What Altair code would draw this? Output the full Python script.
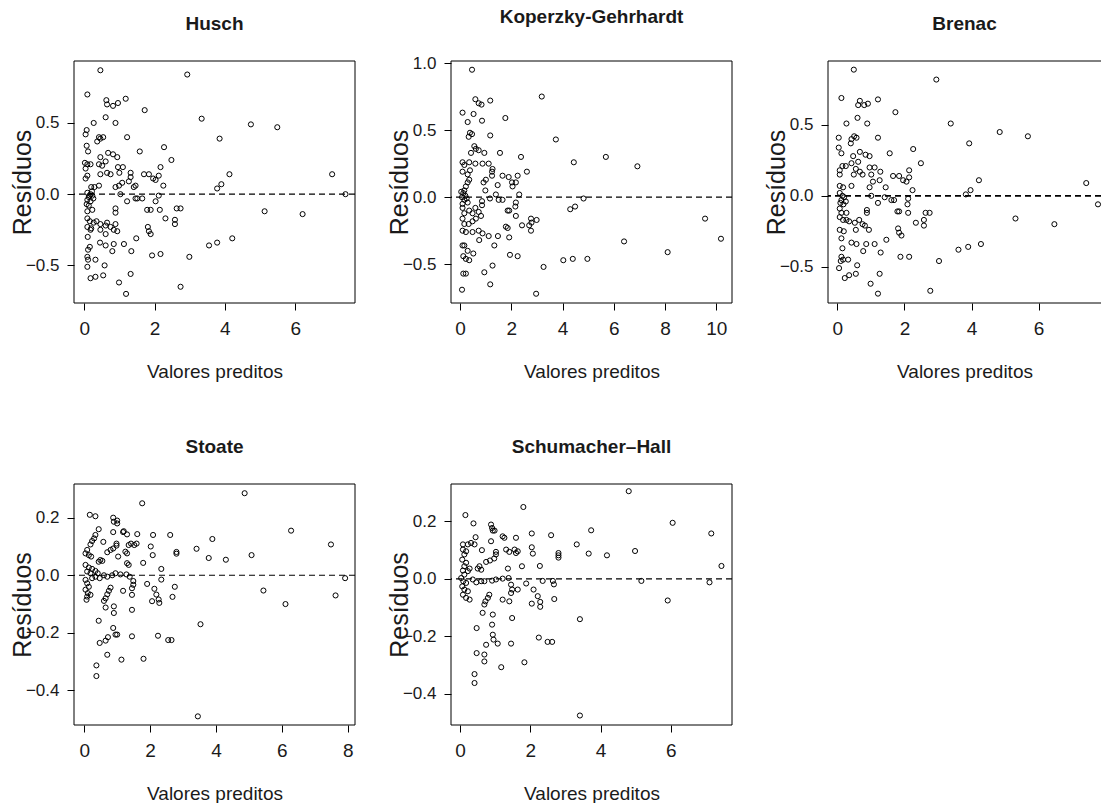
import altair as alt
import pandas as pd

FONT = "Liberation Sans, Arial, sans-serif"

husch = [
    (0.46, 0.87), (2.93, 0.84), (0.09, 0.70), (0.63, 0.66), (0.65, 0.63), (0.82, 0.62), (0.96, 0.64), (1.18, 0.67),
    (1.72, 0.59), (3.34, 0.53), (0.27, 0.50), (0.61, 0.54), (0.89, 0.50), (0.07, 0.45), (0.04, 0.42), (0.42, 0.40),
    (0.54, 0.40), (0.37, 0.37), (0.46, 0.39), (1.22, 0.40), (0.07, 0.34), (0.11, 0.30), (2.27, 0.33), (1.58, 0.30),
    (0.68, 0.29), (0.82, 0.28), (0.94, 0.26), (0.46, 0.26), (0.61, 0.23), (2.48, 0.24), (0.02, 0.22), (0.09, 0.21),
    (0.18, 0.21), (0.04, 0.18), (0.42, 0.21), (0.51, 0.20), (0.96, 0.19), (1.10, 0.19), (2.17, 0.19), (0.46, 0.14),
    (0.65, 0.15), (0.75, 0.14), (1.00, 0.15), (1.32, 0.15), (1.70, 0.14), (1.84, 0.14), (1.96, 0.11), (2.03, 0.10),
    (2.12, 0.13), (0.09, 0.13), (0.04, 0.11), (1.08, 0.08), (0.99, 0.06), (0.89, 0.05), (1.32, 0.12), (1.27, 0.09),
    (1.46, 0.06), (1.41, 0.05), (2.25, 0.06), (0.20, 0.05), (0.42, 0.06), (0.29, 0.05), (0.09, 0.01), (0.18, 0.00),
    (0.23, -0.01), (0.13, -0.02), (0.26, -0.03), (0.09, -0.04), (0.18, -0.05), (0.22, 0.02), (0.15, -0.01), (1.03, 0.00),
    (1.22, -0.05), (1.46, -0.03), (1.51, -0.03), (1.65, -0.03), (2.12, -0.01), (2.03, -0.05), (0.07, -0.07), (0.13, -0.08),
    (0.09, -0.12), (0.23, -0.11), (0.89, -0.10), (0.89, -0.13), (1.79, -0.11), (1.89, -0.11), (2.15, -0.11), (2.63, -0.10),
    (2.74, -0.10), (2.31, -0.17), (2.58, -0.18), (2.58, -0.21), (0.09, -0.17), (0.16, -0.19), (0.27, -0.20), (0.35, -0.19),
    (0.46, -0.21), (0.61, -0.22), (0.65, -0.20), (0.75, -0.23), (0.89, -0.21), (0.84, -0.25), (0.94, -0.26), (0.09, -0.23),
    (0.18, -0.25), (0.20, -0.24), (1.81, -0.23), (1.84, -0.26), (1.89, -0.28), (0.46, -0.25), (0.61, -0.28), (0.10, -0.30),
    (1.48, -0.31), (0.45, -0.34), (0.61, -0.36), (0.84, -0.35), (1.13, -0.35), (1.34, -0.40), (0.16, -0.37), (0.11, -0.39),
    (0.09, -0.44), (0.11, -0.46), (0.09, -0.51), (0.80, -0.40), (1.93, -0.43), (2.17, -0.42), (2.99, -0.44), (0.32, -0.46),
    (0.58, -0.50), (0.18, -0.59), (0.32, -0.58), (0.54, -0.57), (1.32, -0.56), (0.99, -0.62), (2.74, -0.65), (1.19, -0.70),
    (4.74, 0.49), (5.49, 0.47), (3.85, 0.39), (4.13, 0.14), (7.05, 0.14), (3.78, 0.04), (3.90, 0.07), (7.43, 0.00),
    (5.13, -0.12), (6.21, -0.14), (4.21, -0.31), (3.78, -0.34), (3.55, -0.36),
]

koperzky = [
    (0.47, 0.95), (3.19, 0.75), (3.74, 0.43), (5.69, 0.30), (4.44, 0.26), (6.92, 0.23), (2.61, 0.19), (2.38, 0.30),
    (4.82, -0.01), (4.49, -0.07), (4.30, -0.09), (9.56, -0.16), (10.18, -0.31), (6.40, -0.33), (8.10, -0.41), (4.97, -0.46),
    (4.40, -0.46), (4.03, -0.47), (3.26, -0.52), (2.97, -0.72), (2.77, -0.16), (2.79, -0.19), (2.77, -0.25), (2.99, -0.17),
    (2.42, -0.21), (2.31, 0.02), (0.60, 0.73), (0.73, 0.70), (0.84, 0.69), (1.18, 0.72), (0.10, 0.63), (0.53, 0.62),
    (0.86, 0.57), (0.30, 0.56), (1.77, 0.59), (0.39, 0.48), (0.47, 0.47), (0.34, 0.45), (1.18, 0.46), (0.56, 0.38),
    (0.62, 0.36), (0.73, 0.35), (0.43, 0.33), (0.95, 0.33), (1.56, 0.33), (0.10, 0.26), (0.17, 0.24), (0.36, 0.26),
    (0.60, 0.25), (0.88, 0.25), (1.12, 0.25), (0.10, 0.19), (0.30, 0.17), (0.39, 0.20), (1.25, 0.19), (1.25, 0.16),
    (1.27, 0.21), (1.66, 0.16), (1.90, 0.15), (2.25, 0.16), (0.30, 0.11), (0.36, 0.13), (0.92, 0.11), (1.01, 0.13),
    (1.47, 0.09), (2.03, 0.11), (2.18, 0.11), (0.23, 0.08), (0.17, 0.05), (0.99, 0.05), (2.05, 0.08), (0.05, 0.04),
    (0.13, 0.03), (0.21, 0.01), (0.08, 0.00), (0.26, -0.01), (0.17, -0.02), (0.10, -0.05), (0.30, -0.04), (1.17, -0.01),
    (1.40, 0.02), (1.51, -0.02), (1.66, -0.02), (0.86, -0.03), (0.86, -0.06), (2.18, -0.04), (2.16, -0.07), (0.10, -0.08),
    (0.17, -0.12), (0.36, -0.10), (0.49, -0.12), (0.60, -0.08), (0.73, -0.11), (0.82, -0.14), (0.62, -0.16), (1.86, -0.10),
    (1.92, -0.10), (2.18, -0.14), (0.10, -0.16), (0.17, -0.20), (0.34, -0.20), (0.49, -0.18), (2.70, -0.21), (1.79, -0.22),
    (1.86, -0.23), (1.92, -0.30), (0.10, -0.25), (0.23, -0.26), (0.49, -0.26), (0.73, -0.25), (0.88, -0.27), (0.75, -0.32),
    (1.12, -0.29), (1.48, -0.29), (1.34, -0.36), (0.10, -0.36), (0.17, -0.36), (0.30, -0.40), (0.13, -0.44), (0.23, -0.46),
    (0.36, -0.47), (0.52, -0.42), (1.95, -0.43), (2.25, -0.44), (0.13, -0.57), (0.23, -0.57), (0.95, -0.56), (1.27, -0.51),
    (1.18, -0.65), (0.08, -0.69),
]

brenac = [
    (0.49, 0.89), (2.95, 0.82), (0.12, 0.69), (0.67, 0.67), (0.62, 0.64), (0.80, 0.64), (0.91, 0.65), (1.21, 0.68),
    (1.73, 0.59), (3.38, 0.51), (0.27, 0.51), (0.60, 0.55), (0.89, 0.51), (0.04, 0.41), (0.04, 0.34), (0.12, 0.30),
    (0.42, 0.40), (0.50, 0.42), (0.57, 0.41), (0.40, 0.37), (1.21, 0.41), (2.26, 0.33), (1.56, 0.30), (0.67, 0.31),
    (0.84, 0.29), (0.96, 0.28), (0.47, 0.28), (0.62, 0.24), (2.49, 0.23), (0.07, 0.18), (0.15, 0.21), (0.25, 0.21),
    (0.07, 0.15), (0.42, 0.23), (0.55, 0.19), (0.96, 0.20), (1.11, 0.20), (2.14, 0.18), (0.49, 0.15), (0.67, 0.17),
    (0.75, 0.15), (1.01, 0.15), (1.28, 0.17), (1.66, 0.14), (1.84, 0.14), (1.96, 0.11), (2.06, 0.10), (2.14, 0.13),
    (0.07, 0.07), (0.17, 0.06), (0.42, 0.07), (0.96, 0.06), (1.06, 0.10), (1.26, 0.11), (1.44, 0.06), (2.24, 0.04),
    (0.07, 0.02), (0.15, 0.00), (0.20, -0.01), (0.12, -0.03), (0.25, -0.04), (0.09, -0.05), (0.18, -0.06), (1.01, 0.00),
    (1.21, -0.05), (1.41, -0.01), (1.61, -0.03), (1.69, -0.03), (2.11, -0.02), (2.09, -0.06), (0.07, -0.09), (0.12, -0.12),
    (0.27, -0.12), (0.88, -0.10), (0.88, -0.12), (1.79, -0.11), (1.84, -0.11), (2.11, -0.12), (2.63, -0.12), (2.75, -0.12),
    (2.34, -0.19), (2.58, -0.17), (2.58, -0.21), (0.07, -0.15), (0.17, -0.17), (0.27, -0.17), (0.35, -0.18), (0.52, -0.19),
    (0.65, -0.17), (0.75, -0.20), (0.82, -0.21), (0.94, -0.24), (0.07, -0.24), (0.19, -0.25), (1.81, -0.23), (1.84, -0.26),
    (1.91, -0.28), (0.55, -0.24), (0.12, -0.30), (1.46, -0.31), (0.42, -0.33), (0.57, -0.34), (0.77, -0.39), (0.86, -0.34),
    (1.11, -0.34), (0.15, -0.37), (0.12, -0.43), (0.10, -0.46), (0.17, -0.45), (0.05, -0.51), (1.29, -0.40), (1.88, -0.43),
    (2.14, -0.43), (3.03, -0.46), (0.32, -0.45), (0.59, -0.49), (0.22, -0.58), (0.35, -0.56), (0.55, -0.55), (1.26, -0.55),
    (0.99, -0.62), (2.77, -0.67), (1.21, -0.69), (4.84, 0.45), (5.68, 0.42), (3.93, 0.37), (4.22, 0.11), (3.97, 0.04),
    (3.83, 0.01), (7.42, 0.09), (7.77, -0.06), (5.31, -0.16), (6.47, -0.20), (4.28, -0.34), (3.90, -0.36), (3.61, -0.38),
]

stoate = [
    (4.87, 0.285), (1.76, 0.25), (6.28, 0.155), (7.49, 0.107), (3.89, 0.126), (3.41, 0.092), (5.08, 0.070), (3.78, 0.060),
    (4.30, 0.054), (2.80, 0.081), (2.80, 0.075), (2.61, 0.14), (2.09, 0.14), (2.02, 0.10), (2.08, 0.07), (2.34, 0.022),
    (2.34, -0.015), (7.92, -0.01), (7.63, -0.07), (5.44, -0.053), (6.11, -0.10), (2.75, -0.04), (2.68, -0.075), (2.13, -0.047),
    (2.19, -0.067), (2.26, -0.084), (2.28, -0.096), (2.06, -0.09), (3.53, -0.17), (3.45, -0.49), (2.24, -0.21), (2.55, -0.225),
    (2.65, -0.225), (1.80, -0.29), (1.91, -0.03), (1.79, 0.043), (0.17, 0.21), (0.34, 0.205), (0.88, 0.20), (1.00, 0.19),
    (1.00, 0.18), (0.90, 0.186), (0.44, 0.16), (0.88, 0.15), (1.18, 0.15), (1.20, 0.153), (1.30, 0.142), (1.61, 0.143),
    (0.34, 0.14), (0.30, 0.128), (0.24, 0.119), (0.19, 0.107), (0.58, 0.116), (0.98, 0.11), (1.35, 0.105), (1.42, 0.11),
    (1.52, 0.105), (1.59, 0.11), (0.09, 0.088), (0.04, 0.076), (0.14, 0.07), (0.21, 0.065), (0.70, 0.08), (0.80, 0.088),
    (0.88, 0.093), (0.98, 0.103), (1.25, 0.082), (1.30, 0.076), (1.03, 0.065), (0.49, 0.053), (0.55, 0.05), (0.44, 0.047),
    (1.30, 0.042), (1.35, 0.036), (0.04, 0.036), (0.14, 0.027), (0.24, 0.022), (0.09, 0.013), (0.19, 0.007), (0.34, 0.015),
    (0.41, 0.007), (0.60, 0.0), (0.70, -0.005), (0.85, 0.0), (0.95, 0.007), (1.10, 0.003), (1.28, 0.003), (1.38, -0.005),
    (0.47, -0.01), (0.34, -0.005), (0.24, -0.01), (0.04, -0.016), (0.09, -0.028), (0.14, -0.04), (0.04, -0.05), (0.11, -0.062),
    (0.19, -0.068), (0.09, -0.074), (0.07, -0.085), (1.49, -0.02), (1.49, -0.033), (1.45, -0.045), (1.45, -0.068), (1.18, -0.054),
    (0.80, -0.043), (0.75, -0.054), (0.70, -0.066), (0.65, -0.08), (0.60, -0.089), (0.65, -0.112), (0.90, -0.108), (0.90, -0.131),
    (1.45, -0.12), (0.44, -0.158), (0.88, -0.183), (0.95, -0.206), (1.00, -0.206), (1.45, -0.212), (0.72, -0.215), (0.65, -0.227),
    (0.47, -0.235), (0.70, -0.276), (0.37, -0.313), (0.37, -0.35), (1.13, -0.293),
]

schumacher = [
    (4.80, 0.305), (1.80, 0.25), (6.05, 0.195), (7.15, 0.158), (3.73, 0.169), (2.59, 0.152), (2.04, 0.158), (3.32, 0.12),
    (4.98, 0.097), (3.66, 0.088), (4.18, 0.082), (2.80, 0.09), (2.80, 0.082), (2.80, 0.074), (7.44, 0.045), (2.27, 0.045),
    (2.04, 0.11), (2.07, 0.088), (2.35, -0.007), (2.64, -0.007), (2.67, -0.019), (5.16, -0.007), (7.10, -0.012), (5.91, -0.075),
    (2.68, -0.07), (3.41, -0.14), (3.41, -0.475), (2.24, -0.204), (2.49, -0.219), (2.62, -0.219), (1.83, -0.29), (1.88, -0.016),
    (2.09, -0.037), (2.21, -0.06), (2.28, -0.08), (2.28, -0.097), (2.04, -0.086), (0.15, 0.222), (0.38, 0.193), (0.88, 0.189),
    (0.91, 0.177), (0.93, 0.168), (0.98, 0.168), (0.44, 0.145), (1.26, 0.143), (1.21, 0.148), (1.59, 0.143), (0.88, 0.131),
    (0.08, 0.12), (0.22, 0.12), (0.31, 0.125), (0.41, 0.12), (0.08, 0.102), (0.17, 0.096), (0.12, 0.085), (0.06, 0.067),
    (0.17, 0.056), (0.62, 0.10), (1.02, 0.094), (1.02, 0.085), (1.31, 0.102), (1.40, 0.094), (1.55, 0.102), (1.59, 0.09),
    (1.64, 0.096), (0.97, 0.071), (0.85, 0.064), (0.74, 0.059), (0.55, 0.044), (0.50, 0.036), (0.60, 0.032), (0.12, 0.044),
    (0.27, 0.036), (0.08, 0.029), (0.22, 0.027), (0.12, 0.015), (1.36, 0.036), (1.76, 0.044), (0.03, 0.003), (0.09, -0.008),
    (0.17, -0.014), (0.06, -0.026), (0.12, -0.037), (0.22, -0.043), (0.08, -0.055), (0.17, -0.066), (0.27, -0.072), (0.36, -0.002),
    (0.46, -0.012), (0.60, -0.008), (0.69, -0.008), (0.91, -0.006), (1.02, -0.002), (1.21, 0.001), (1.38, 0.003), (1.45, -0.02),
    (1.48, -0.037), (1.45, -0.049), (1.40, -0.078), (1.64, -0.037), (0.83, -0.055), (0.79, -0.066), (0.72, -0.078), (0.69, -0.089),
    (0.64, -0.118), (1.21, -0.072), (0.93, -0.124), (0.91, -0.159), (1.48, -0.136), (0.47, -0.171), (0.93, -0.194), (0.95, -0.211),
    (1.07, -0.225), (1.45, -0.225), (0.74, -0.229), (0.47, -0.258), (0.69, -0.263), (0.69, -0.287), (1.17, -0.307), (0.41, -0.331),
    (0.41, -0.362),
]

TEXT = "#1a1a1a"


def panel(pairs, title, xdom, ydom, xticks, yticks, w, h, dash_w=1.2, open_right=False):
    df = pd.DataFrame(pairs, columns=["x", "y"])
    xs = alt.Scale(domain=xdom, nice=False, zero=False)
    ys = alt.Scale(domain=ydom, nice=False, zero=False)
    xaxis = alt.Axis(values=xticks, format="d", title="Valores preditos", titleY=68,
                     titleBaseline="middle", titleFont=FONT, titleFontSize=19,
                     titleFontWeight="normal", titleColor=TEXT,
                     labelFont=FONT, labelFontSize=19, labelPadding=9, labelColor=TEXT,
                     tickSize=7, tickColor="black", domain=False, grid=False, labelFlush=False)
    yaxis = alt.Axis(values=yticks, format=".1f", title="Resíduos", titleX=-52,
                     titleBaseline="middle", titleAngle=270, titleFont=FONT, titleFontSize=25,
                     titleFontWeight="normal", titleColor=TEXT,
                     labelFont=FONT, labelFontSize=17, labelPadding=8, labelColor=TEXT,
                     tickSize=7, tickColor="black", domain=False, grid=False, labelFlush=False)
    pts = alt.Chart(df).mark_point(shape="circle", filled=False, size=26, stroke="black",
                                    strokeWidth=1, opacity=1).encode(
        x=alt.X("x:Q", scale=xs, axis=xaxis),
        y=alt.Y("y:Q", scale=ys, axis=yaxis),
    )
    zero = alt.Chart(pd.DataFrame({"y": [0]})).mark_rule(
        strokeDash=[6, 4], color="black", strokeWidth=dash_w).encode(
        y=alt.Y("y:Q", scale=ys))
    one = pd.DataFrame({"a": [0]})
    top = alt.Chart(one).mark_rule(color="black", strokeWidth=1).encode(
        x=alt.value(0), x2=alt.value(w), y=alt.value(0))
    bot = alt.Chart(one).mark_rule(color="black", strokeWidth=1).encode(
        x=alt.value(0), x2=alt.value(w), y=alt.value(h))
    left = alt.Chart(one).mark_rule(color="black", strokeWidth=1).encode(
        x=alt.value(0), y=alt.value(0), y2=alt.value(h))
    layers = [zero, pts, top, bot, left]
    if not open_right:
        right = alt.Chart(one).mark_rule(color="black", strokeWidth=1).encode(
            x=alt.value(w), y=alt.value(0), y2=alt.value(h))
        layers.append(right)
    ch = alt.layer(*layers).properties(
        width=w, height=h,
        title=alt.Title(title, font=FONT, fontSize=19, fontWeight="bold", color=TEXT,
                        anchor="middle", frame="group", baseline="middle", offset=18),
    )
    return ch


W = 281
p1 = panel(husch, "Husch", [-0.29, 7.70], [-0.764, 0.935], [0, 2, 4, 6], [-0.5, 0.0, 0.5], W, 242)
p2 = panel(koperzky, "Koperzky-Gehrhardt", [-0.35, 10.61], [-0.789, 1.015], [0, 2, 4, 6, 8, 10],
           [-0.5, 0.0, 0.5, 1.0], W, 242)
p3 = panel(brenac, "Brenac", [-0.28, 7.86], [-0.756, 0.951], [0, 2, 4, 6], [-0.5, 0.0, 0.5], 273, 242,
           dash_w=1.8, open_right=True)
p4 = panel(stoate, "Stoate", [-0.31, 8.22], [-0.52, 0.317], [0, 2, 4, 6, 8], [-0.4, -0.2, 0.0, 0.2], W, 241)
p5 = panel(schumacher, "Schumacher\u2013Hall", [-0.26, 7.74], [-0.508, 0.33], [0, 2, 4, 6],
           [-0.4, -0.2, 0.0, 0.2], W, 241)

chart = alt.concat(p1, p2, p3, p4, p5, columns=3, bounds="flush",
                   spacing=alt.RowColnumber(row=181, column=96)).properties(
    padding={"left": 10, "top": 8, "right": 0, "bottom": 0},
    background="white",
).configure_view(stroke="transparent", strokeWidth=0)

chart.save("out.html", embed_options={"renderer": "svg", "actions": False})
